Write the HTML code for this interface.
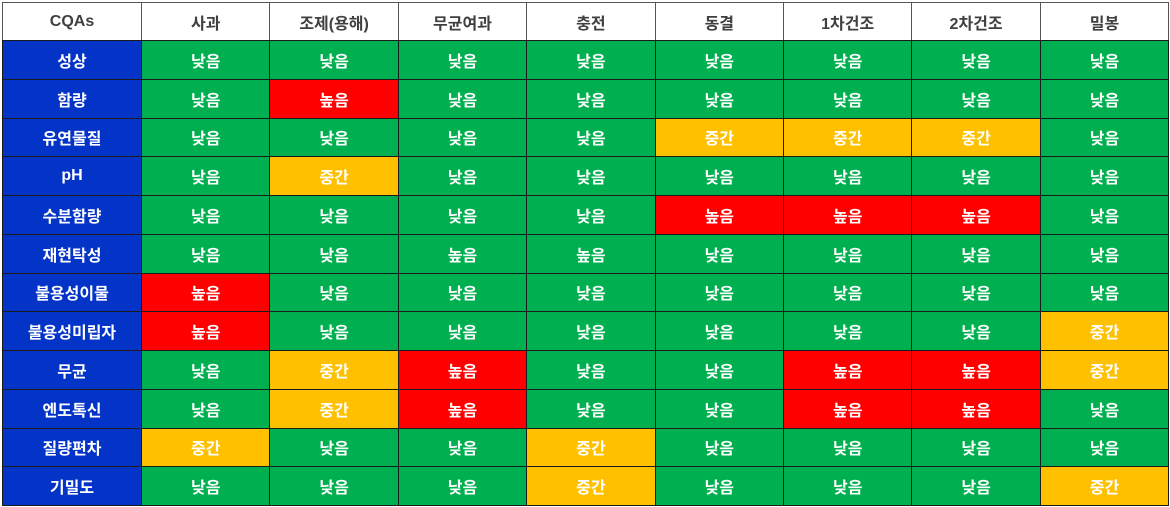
<!DOCTYPE html>
<html><head><meta charset="utf-8">
<style>
html,body{margin:0;padding:0;background:#fff;width:1170px;height:507px;overflow:hidden}
#grid{position:absolute;left:0;top:0;width:1170px;height:507px}
.c{position:absolute;box-sizing:border-box;display:flex;align-items:center;justify-content:center;
font-family:"Liberation Sans","Noto Sans CJK KR",sans-serif;font-weight:bold;font-size:16px;color:#fff;border:1px solid #1a1a1a}
.h{color:#404040;background:#fff;font-size:16px;border:1px solid #555}
</style></head><body>
<div id="grid"></div>
<script>
const columns=["사과","조제(용해)","무균여과","충전","동결","1차건조","2차건조","밀봉"];
const rows=["성상","함량","유연물질","pH","수분함량","재현탁성","불용성이물","불용성미립자","무균","엔도톡신","질량편차","기밀도"];
// L=낮음 M=중간 H=높음
const levels=[
"LLLLLLLL",
"LHLLLLLL",
"LLLLMMML",
"LMLLLLLL",
"LLLLHHHL",
"LLLLLLLL",
"HLLLLLLL",
"HLLLLLLM",
"LMHLLHHM",
"LMHLLHHL",
"MLLMLLLL",
"LLLMLLLM"];
const labels={L:"낮음",M:"중간",H:"높음"};
const colors={L:"#00B050",M:"#FFC000",H:"#FF0000"};
const g=document.getElementById('grid');
const colX=i=>i===0?2:141+(i-1)*128.4;
const colW=i=>i===0?139:128.4;
const rowY=r=>r===0?2:40+(r-1)*38.75;
const rowH=r=>r===0?38:38.75;
function cell(x,y,w,h,txt,cls,bg){
  const d=document.createElement('div');
  d.className='c '+cls;
  d.style.left=x+'px';d.style.top=y+'px';d.style.width=(w+1)+'px';d.style.height=(h+1)+'px';
  if(bg)d.style.background=bg;
  d.textContent=txt;
  g.appendChild(d);
  return d;
}
let d=cell(colX(0),rowY(0),colW(0),rowH(0),"CQAs","h");


columns.forEach((c,i)=>{
  const e=cell(colX(i+1),rowY(0),colW(i+1),rowH(0),c,"h");
  
  
});
rows.forEach((r,ri)=>{
  const e=cell(colX(0),rowY(ri+1),colW(0),rowH(ri+1),r,"","#0433C8");
  
  
  levels[ri].split('').forEach((lv,ci)=>{
    let txt=labels[lv];
    if(ri===5&&(ci===2||ci===3))txt="높음";
    const k=cell(colX(ci+1),rowY(ri+1),colW(ci+1),rowH(ri+1),txt,"",colors[lv]);
    
    
  });
});
</script>
</body></html>
